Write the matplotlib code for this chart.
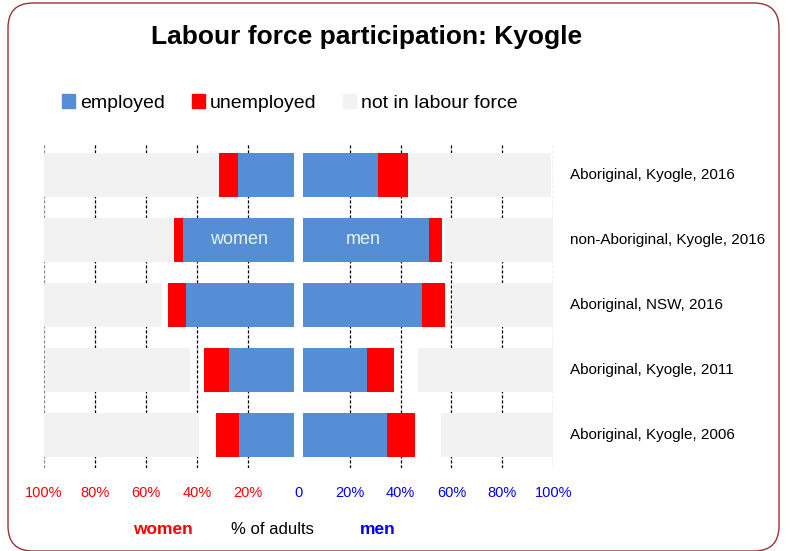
import numpy as np
import matplotlib.pyplot as plt
from matplotlib.patches import FancyBboxPatch, Patch

plt.rcParams['font.family'] = ['Liberation Sans', 'DejaVu Sans']

# Data (% of adults), rows from top to bottom
groups = ['Aboriginal, Kyogle, 2016', 'non-Aboriginal, Kyogle, 2016',
          'Aboriginal, NSW, 2016', 'Aboriginal, Kyogle, 2011',
          'Aboriginal, Kyogle, 2006']
women_employed = [22.0, 43.6, 42.6, 25.6, 21.9]
women_unemployed = [7.5, 3.6, 7.2, 9.8, 9.0]
women_not_stated = [0.0, 0.6, 2.3, 5.6, 6.6]
women_nilf = [68.7, 50.5, 46.2, 56.7, 61.4]
men_employed = [29.4, 49.5, 46.6, 25.1, 33.0]
men_unemployed = [11.8, 5.1, 9.2, 10.6, 11.1]
men_not_stated = [0.0, 1.2, 2.6, 9.6, 10.1]
men_nilf = [56.2, 42.5, 39.9, 53.7, 44.8]
ticks = [-100, -80, -60, -40, -20, 0, 20, 40, 60, 80, 100]
tick_labels = ['100%', '80%', '60%', '40%', '20%', '0', '20%', '40%', '60%', '80%', '100%']

blue = '#558ED5'
red = '#FF0000'
grey = '#F2F2F2'
gap = 1.7
h = 0.667

fig = plt.figure(figsize=(7.86, 5.51), dpi=100)
ax = fig.add_axes([44 / 786, 1 - 467.5 / 551, 509.3 / 786, 325 / 551])

y = np.arange(len(groups))


def draw_side(sign, emp, unemp, ns, nilf):
    emp = np.array(emp)
    unemp = np.array(unemp)
    ns = np.array(ns)
    nilf = np.array(nilf)
    start = np.full(len(emp), gap)
    ax.barh(y, sign * emp, left=sign * start, height=h, color=blue, zorder=3)
    start = start + emp
    ax.barh(y, sign * unemp, left=sign * start, height=h, color=red, zorder=3)
    start = start + unemp + ns
    ax.barh(y, sign * nilf, left=sign * start, height=h, color=grey, zorder=3)
    return emp


we = draw_side(-1, women_employed, women_unemployed, women_not_stated, women_nilf)
me = draw_side(1, men_employed, men_unemployed, men_not_stated, men_nilf)

# grid lines (none at 0)
for t in ticks:
    if t == 0:
        continue
    col = '#888888' if abs(t) == 100 else 'black'
    ax.axvline(t, color=col, lw=0.9, ls=(0, (2.5, 1.5)), zorder=1)

ax.set_xlim(-100, 100)
ax.set_ylim(len(groups) - 0.5, -0.5)
ax.set_xticks(ticks)
ax.set_xticklabels(tick_labels, fontsize=10.5)
for lab, t in zip(ax.get_xticklabels(), ticks):
    lab.set_color(red if t < 0 else 'blue')
ax.set_yticks([])
ax.tick_params(axis='x', length=0, pad=13)
for s in ax.spines.values():
    s.set_visible(False)

# row labels on the right
for i, g in enumerate(groups):
    ax.text(1.033, i, g, transform=ax.get_yaxis_transform(),
            ha='left', va='center', fontsize=11)

# labels inside bars
ax.text(-(gap + we[1] / 2), 1, 'women', color='#EEF3FA', ha='center', va='center', fontsize=13, zorder=4)
ax.text(gap + me[1] / 2 - 1, 1, 'men', color='#EEF3FA', ha='center', va='center', fontsize=13, zorder=4)

# title
fig.text(367 / 786, 1 - 44 / 551, 'Labour force participation: Kyogle',
         ha='center', va='baseline', fontsize=19, fontweight='bold')

# legend
handles = [Patch(color=blue, label='employed'),
           Patch(color=red, label='unemployed'),
           Patch(color=grey, label='not in labour force')]
fig.legend(handles=handles, loc='center left', bbox_to_anchor=(62 / 786, 1 - 103 / 551),
           ncol=3, frameon=False, fontsize=14, handlelength=0.67, handleheight=0.67,
           handletextpad=0.25, columnspacing=1.38, borderaxespad=0, borderpad=0)

# bottom labels
fig.text(163 / 786, 1 - 530 / 551, 'women', color=red, fontweight='bold',
         ha='center', va='center', fontsize=12.5)
fig.text(272 / 786, 1 - 530 / 551, '% of adults', ha='center', va='center', fontsize=12)
fig.text(378 / 786, 1 - 530 / 551, 'men', color='blue', fontweight='bold',
         ha='center', va='center', fontsize=12.5)

# rounded border
border = FancyBboxPatch((0.08, 0.0), 7.71, 5.48,
                        boxstyle='round,pad=0,rounding_size=0.25',
                        transform=fig.dpi_scale_trans, fill=False,
                        edgecolor='#993333', lw=1.0)
fig.patches.append(border)

fig.savefig('out.png', dpi=100)
